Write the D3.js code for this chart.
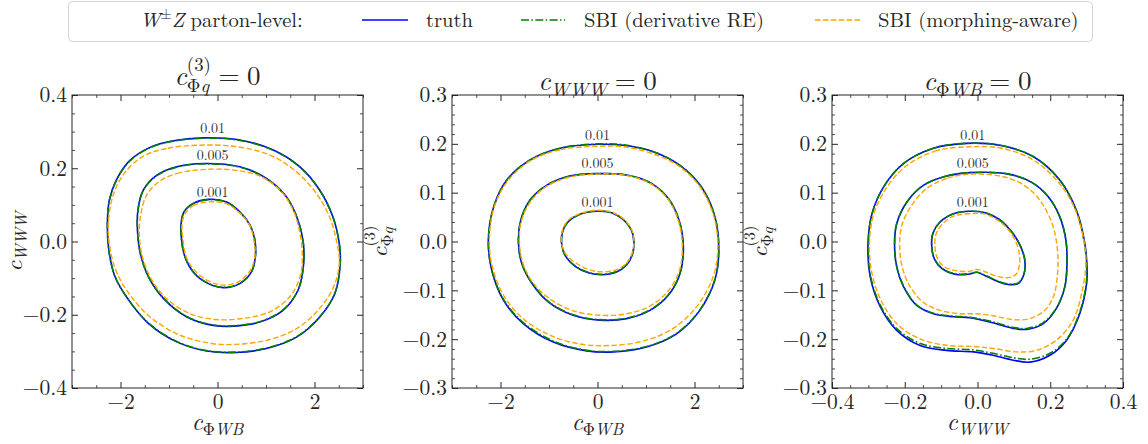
<!DOCTYPE html>
<html><head><meta charset="utf-8">
<script src="https://cdn.jsdelivr.net/npm/d3@7"></script>
<style>
body{margin:0;background:#fff}
svg{display:block;background:#fff}
</style>
</head><body>
<svg id="chart" width="1148" height="444"></svg>
<script>
// ---------------- DATA ----------------
const levelLabels = ["0.01", "0.005", "0.001"];
const seriesNames = ["truth", "SBI (derivative RE)", "SBI (morphing-aware)"];

// tick values
const xTicksWB = [-2, 0, 2];
const yTicksWWW = [-0.4, -0.2, 0.0, 0.2, 0.4];
const yTicksPhiq = [-0.3, -0.2, -0.1, 0.0, 0.1, 0.2, 0.3];
const xTicksWWW = [-0.4, -0.2, 0.0, 0.2, 0.4];

// Panel 1: c_PhiWB (x) vs c_WWW (y), c_Phiq(3)=0
const p1Truth01 = [[-0.29,0.283],[-0.91,0.275],[-1.39,0.257],[-1.80,0.222],[-2.07,0.172],[-2.23,0.113],[-2.27,0.049],[-2.24,-0.024],[-2.11,-0.097],[-1.83,-0.160],[-1.42,-0.224],[-0.84,-0.274],[-0.22,-0.299],[0.39,-0.303],[1.01,-0.292],[1.63,-0.261],[2.11,-0.206],[2.42,-0.142],[2.53,-0.060],[2.51,-0.005],[2.38,0.067],[2.11,0.140],[1.70,0.204],[1.15,0.250],[0.46,0.277]];
const p1Deriv01 = [[-0.29,0.282],[-0.91,0.274],[-1.39,0.256],[-1.80,0.221],[-2.07,0.171],[-2.23,0.112],[-2.27,0.049],[-2.24,-0.024],[-2.11,-0.097],[-1.83,-0.160],[-1.42,-0.223],[-0.84,-0.273],[-0.22,-0.298],[0.39,-0.302],[1.01,-0.291],[1.63,-0.260],[2.11,-0.205],[2.42,-0.141],[2.53,-0.060],[2.51,-0.005],[2.38,0.067],[2.11,0.139],[1.70,0.203],[1.15,0.249],[0.46,0.276]];
const p1Morph01 = [[-0.36,0.263],[-1.05,0.254],[-1.53,0.233],[-1.90,0.190],[-2.14,0.131],[-2.25,0.049],[-2.21,-0.024],[-2.07,-0.087],[-1.80,-0.147],[-1.39,-0.206],[-0.77,-0.256],[-0.09,-0.279],[0.33,-0.281],[1.01,-0.270],[1.63,-0.238],[2.07,-0.188],[2.38,-0.128],[2.51,-0.060],[2.45,0.004],[2.31,0.067],[2.04,0.131],[1.63,0.190],[1.08,0.236],[0.39,0.259]];
const p1Truth005 = [[-0.29,0.213],[-0.84,0.204],[-1.25,0.181],[-1.53,0.140],[-1.64,0.086],[-1.65,0.031],[-1.59,-0.033],[-1.42,-0.097],[-1.11,-0.156],[-0.63,-0.206],[-0.09,-0.229],[0.33,-0.231],[0.87,-0.220],[1.35,-0.188],[1.66,-0.133],[1.77,-0.069],[1.77,-0.005],[1.66,0.058],[1.42,0.122],[1.01,0.172],[0.46,0.204]];
const p1Deriv005 = [[-0.29,0.212],[-0.84,0.203],[-1.25,0.180],[-1.53,0.140],[-1.64,0.086],[-1.65,0.031],[-1.59,-0.033],[-1.42,-0.097],[-1.11,-0.155],[-0.63,-0.205],[-0.09,-0.228],[0.33,-0.230],[0.87,-0.219],[1.35,-0.187],[1.66,-0.133],[1.77,-0.069],[1.77,-0.005],[1.66,0.058],[1.42,0.121],[1.01,0.171],[0.46,0.203]];
const p1Morph005 = [[-0.22,0.197],[-0.77,0.188],[-1.18,0.166],[-1.46,0.127],[-1.59,0.067],[-1.61,0.013],[-1.54,-0.046],[-1.35,-0.106],[-1.05,-0.156],[-0.57,-0.197],[-0.02,-0.213],[0.53,-0.210],[1.08,-0.192],[1.49,-0.151],[1.70,-0.097],[1.75,-0.042],[1.70,0.022],[1.56,0.086],[1.29,0.140],[0.87,0.179],[0.33,0.195]];
const p1Truth001 = [[-0.19,0.115],[-0.50,0.104],[-0.69,0.081],[-0.75,0.049],[-0.74,0.004],[-0.67,-0.042],[-0.50,-0.083],[-0.22,-0.113],[0.12,-0.126],[0.46,-0.115],[0.70,-0.083],[0.78,-0.042],[0.77,0.004],[0.67,0.045],[0.46,0.081],[0.19,0.108]];
const p1Deriv001 = [[-0.19,0.114],[-0.50,0.103],[-0.69,0.081],[-0.75,0.049],[-0.74,0.004],[-0.67,-0.042],[-0.50,-0.083],[-0.22,-0.112],[0.12,-0.125],[0.46,-0.114],[0.70,-0.083],[0.78,-0.042],[0.77,0.004],[0.67,0.045],[0.46,0.080],[0.19,0.107]];
const p1Morph001 = [[-0.19,0.108],[-0.48,0.099],[-0.66,0.078],[-0.73,0.049],[-0.71,0.004],[-0.65,-0.040],[-0.48,-0.078],[-0.21,-0.106],[0.09,-0.119],[0.43,-0.110],[0.67,-0.080],[0.77,-0.042],[0.75,0.004],[0.66,0.045],[0.45,0.079],[0.17,0.104]];
const p1LabelPos = [[-0.10,0.296],[-0.10,0.222],[-0.10,0.122]];

// Panel 2: c_PhiWB (x) vs c_Phiq(3) (y), c_WWW=0
const p2Truth01 = [[0.02,0.199],[-0.77,0.191],[-1.39,0.167],[-1.87,0.126],[-2.14,0.071],[-2.25,0.003],[-2.18,-0.059],[-1.94,-0.120],[-1.53,-0.168],[-0.91,-0.206],[-0.22,-0.224],[0.33,-0.226],[1.01,-0.216],[1.63,-0.189],[2.11,-0.141],[2.42,-0.079],[2.50,-0.018],[2.42,0.051],[2.14,0.112],[1.70,0.156],[1.15,0.184],[0.53,0.197]];
const p2Deriv01 = [[0.02,0.200],[-0.77,0.191],[-1.39,0.167],[-1.87,0.126],[-2.14,0.071],[-2.25,0.003],[-2.18,-0.058],[-1.94,-0.118],[-1.53,-0.166],[-0.91,-0.204],[-0.22,-0.223],[0.33,-0.225],[1.01,-0.215],[1.63,-0.188],[2.11,-0.140],[2.42,-0.078],[2.50,-0.018],[2.42,0.051],[2.14,0.112],[1.70,0.156],[1.15,0.184],[0.53,0.198]];
const p2Morph01 = [[0.02,0.195],[-0.77,0.188],[-1.39,0.165],[-1.85,0.124],[-2.13,0.070],[-2.23,0.003],[-2.16,-0.055],[-1.92,-0.113],[-1.51,-0.160],[-0.91,-0.195],[-0.29,-0.211],[0.26,-0.213],[0.94,-0.204],[1.56,-0.178],[2.04,-0.134],[2.37,-0.076],[2.48,-0.018],[2.40,0.051],[2.12,0.111],[1.68,0.154],[1.13,0.180],[0.53,0.194]];
const p2Truth005 = [[0.02,0.139],[-0.57,0.134],[-1.05,0.115],[-1.39,0.085],[-1.58,0.044],[-1.63,-0.001],[-1.56,-0.045],[-1.35,-0.086],[-1.01,-0.124],[-0.50,-0.151],[0.05,-0.161],[0.60,-0.158],[1.08,-0.141],[1.46,-0.110],[1.70,-0.066],[1.77,-0.011],[1.68,0.044],[1.46,0.088],[1.11,0.119],[0.60,0.136]];
const p2Deriv005 = [[0.02,0.139],[-0.57,0.134],[-1.05,0.115],[-1.39,0.085],[-1.58,0.044],[-1.63,-0.001],[-1.56,-0.045],[-1.35,-0.085],[-1.01,-0.123],[-0.50,-0.150],[0.05,-0.160],[0.60,-0.157],[1.08,-0.140],[1.46,-0.109],[1.70,-0.066],[1.77,-0.011],[1.68,0.044],[1.46,0.088],[1.11,0.119],[0.60,0.136]];
const p2Morph005 = [[0.02,0.138],[-0.57,0.132],[-1.05,0.113],[-1.37,0.083],[-1.57,0.042],[-1.61,-0.001],[-1.54,-0.044],[-1.34,-0.083],[-0.99,-0.117],[-0.50,-0.142],[0.05,-0.151],[0.60,-0.148],[1.07,-0.133],[1.44,-0.103],[1.68,-0.062],[1.75,-0.011],[1.67,0.042],[1.45,0.087],[1.10,0.118],[0.60,0.135]];
const p2Truth001 = [[-0.02,0.062],[-0.36,0.056],[-0.61,0.040],[-0.72,0.020],[-0.74,-0.004],[-0.67,-0.028],[-0.46,-0.051],[-0.19,-0.064],[0.09,-0.068],[0.38,-0.063],[0.60,-0.048],[0.72,-0.026],[0.75,-0.003],[0.70,0.023],[0.53,0.045],[0.29,0.059]];
const p2Deriv001 = [[-0.02,0.062],[-0.36,0.056],[-0.61,0.040],[-0.72,0.020],[-0.74,-0.004],[-0.67,-0.028],[-0.46,-0.050],[-0.19,-0.063],[0.09,-0.067],[0.38,-0.062],[0.60,-0.047],[0.72,-0.026],[0.75,-0.003],[0.70,0.023],[0.53,0.045],[0.29,0.059]];
const p2Morph001 = [[-0.02,0.064],[-0.36,0.057],[-0.62,0.042],[-0.73,0.020],[-0.74,-0.004],[-0.65,-0.026],[-0.43,-0.045],[-0.19,-0.057],[0.05,-0.062],[0.36,-0.059],[0.59,-0.045],[0.71,-0.025],[0.75,-0.001],[0.71,0.023],[0.54,0.046],[0.29,0.060]];
const p2LabelPos = [[0.0,0.208],[0.0,0.150],[0.0,0.070]];

// Panel 3: c_WWW (x) vs c_Phiq(3) (y), c_PhiWB=0
const p3Truth01 = [[-0.030,0.201],[-0.121,0.191],[-0.203,0.160],[-0.258,0.112],[-0.290,0.057],[-0.301,-0.004],[-0.295,-0.072],[-0.267,-0.134],[-0.222,-0.182],[-0.158,-0.213],[-0.085,-0.223],[-0.011,-0.226],[0.043,-0.233],[0.098,-0.243],[0.144,-0.247],[0.199,-0.233],[0.245,-0.202],[0.281,-0.148],[0.300,-0.086],[0.301,-0.052],[0.295,-0.004],[0.272,0.064],[0.226,0.126],[0.153,0.174],[0.062,0.197]];
const p3Deriv01 = [[-0.030,0.201],[-0.121,0.191],[-0.203,0.160],[-0.258,0.112],[-0.290,0.057],[-0.300,-0.004],[-0.294,-0.071],[-0.266,-0.132],[-0.221,-0.179],[-0.157,-0.209],[-0.085,-0.219],[-0.011,-0.222],[0.043,-0.229],[0.098,-0.238],[0.144,-0.241],[0.199,-0.229],[0.245,-0.200],[0.280,-0.147],[0.299,-0.086],[0.300,-0.052],[0.294,-0.004],[0.271,0.064],[0.226,0.126],[0.153,0.174],[0.062,0.197]];
const p3Morph01 = [[-0.021,0.194],[-0.112,0.186],[-0.194,0.156],[-0.251,0.109],[-0.286,0.054],[-0.297,-0.004],[-0.290,-0.066],[-0.263,-0.124],[-0.217,-0.172],[-0.153,-0.201],[-0.080,-0.213],[-0.011,-0.215],[0.043,-0.219],[0.107,-0.226],[0.162,-0.223],[0.217,-0.202],[0.263,-0.161],[0.288,-0.100],[0.298,-0.045],[0.292,0.003],[0.267,0.068],[0.222,0.122],[0.153,0.167],[0.066,0.191]];
const p3Truth005 = [[-0.021,0.141],[-0.085,0.134],[-0.149,0.115],[-0.194,0.081],[-0.222,0.037],[-0.228,-0.004],[-0.222,-0.052],[-0.203,-0.093],[-0.167,-0.131],[-0.121,-0.148],[-0.066,-0.154],[-0.021,-0.156],[0.034,-0.165],[0.098,-0.178],[0.135,-0.180],[0.181,-0.168],[0.217,-0.137],[0.240,-0.093],[0.246,-0.045],[0.243,0.003],[0.226,0.051],[0.194,0.092],[0.149,0.121],[0.085,0.138]];
const p3Deriv005 = [[-0.021,0.141],[-0.085,0.134],[-0.149,0.115],[-0.194,0.081],[-0.222,0.037],[-0.228,-0.004],[-0.222,-0.052],[-0.203,-0.092],[-0.167,-0.130],[-0.121,-0.147],[-0.066,-0.153],[-0.021,-0.155],[0.034,-0.163],[0.098,-0.176],[0.135,-0.178],[0.181,-0.166],[0.217,-0.136],[0.240,-0.093],[0.246,-0.045],[0.243,0.003],[0.226,0.051],[0.194,0.092],[0.149,0.121],[0.085,0.138]];
const p3Morph005 = [[-0.021,0.138],[-0.085,0.129],[-0.139,0.109],[-0.181,0.074],[-0.208,0.033],[-0.214,-0.008],[-0.208,-0.049],[-0.187,-0.090],[-0.150,-0.124],[-0.103,-0.141],[-0.048,-0.148],[-0.002,-0.148],[0.043,-0.152],[0.098,-0.160],[0.144,-0.158],[0.185,-0.141],[0.210,-0.110],[0.220,-0.066],[0.220,-0.018],[0.208,0.030],[0.181,0.074],[0.140,0.109],[0.080,0.131]];
const p3Truth001 = [[-0.021,0.062],[-0.066,0.057],[-0.103,0.040],[-0.123,0.016],[-0.126,-0.008],[-0.119,-0.035],[-0.098,-0.055],[-0.062,-0.067],[-0.025,-0.067],[-0.002,-0.063],[0.021,-0.070],[0.053,-0.081],[0.085,-0.088],[0.112,-0.086],[0.128,-0.066],[0.130,-0.038],[0.119,-0.011],[0.094,0.020],[0.060,0.045],[0.021,0.059]];
const p3Deriv001 = [[-0.021,0.062],[-0.066,0.057],[-0.103,0.040],[-0.123,0.016],[-0.126,-0.008],[-0.119,-0.035],[-0.098,-0.055],[-0.062,-0.066],[-0.025,-0.066],[-0.002,-0.063],[0.021,-0.069],[0.053,-0.080],[0.085,-0.087],[0.112,-0.085],[0.128,-0.066],[0.130,-0.038],[0.119,-0.011],[0.094,0.020],[0.060,0.045],[0.021,0.059]];
const p3Morph001 = [[-0.016,0.057],[-0.062,0.053],[-0.095,0.037],[-0.114,0.015],[-0.117,-0.011],[-0.110,-0.035],[-0.091,-0.052],[-0.057,-0.060],[-0.022,-0.061],[-0.002,-0.057],[0.021,-0.062],[0.053,-0.071],[0.085,-0.074],[0.106,-0.067],[0.115,-0.049],[0.115,-0.025],[0.103,0.003],[0.078,0.030],[0.043,0.049],[0.014,0.057]];
const p3LabelPos = [[-0.013,0.208],[-0.013,0.150],[-0.013,0.070]];

// ---------------- LAYOUT / STYLE ----------------
const svg = d3.select("#chart");
const FONT = "Latin Modern Roman, Liberation Serif, serif";
const TXT = "#262626";
const PW = 291, PH = 293, PY = 95;
const styles = [
  {color: "#0000ff", width: 1.6, dash: null},
  {color: "#008000", width: 1.6, dash: "8,2.4,1.5,2.4"},
  {color: "#ffa500", width: 1.4, dash: "5.5,2.4"}
];
function font(sel, size) {
  return sel.style("font-family", FONT).style("font-size", size + "px").style("fill", TXT);
}

// math-like text: pieces laid out sequentially; sub/sup smaller and shifted; stack places piece at previous start
function mathText(parent, pieces, fs, anchor) {
  const g = parent.append("g");
  let x = 0, prevStart = 0, prevW = 0;
  pieces.forEach(p => {
    const size = (p.sub || p.sup) ? fs * 0.7 : fs;
    const dy = p.sub ? fs * (p.subShift || 0.22) : p.sup ? -fs * (p.supShift || 0.42) : 0;
    if (p.gapL) x += p.gapL * fs;
    const start = p.stack ? prevStart : x;
    const t = font(g.append("text").attr("x", start).attr("y", dy), size);
    p.runs.forEach(r => t.append("tspan").text(r[0]).style("font-style", r[1] ? "italic" : "normal"));
    const w = t.node().getComputedTextLength();
    if (p.stack) { x = start + Math.max(prevW, w); }
    else { x = start + w; prevStart = start; prevW = w; }
    if (p.gapR) x += p.gapR * fs;
  });
  const shift = anchor === "middle" ? -x / 2 : anchor === "end" ? -x : 0;
  g.selectAll("text").attr("x", function(){ return +d3.select(this).attr("x") + shift; });
  return g;
}

const cPhiq = [{runs:[["c",1]]},{runs:[["Φ",0],["q",1]],sub:1,subShift:0.25},{runs:[["(3)",0]],sup:1,stack:1,supShift:0.52}];
const cWWW = [{runs:[["c",1]]},{runs:[["WWW",1]],sub:1}];
const cPhiWB = [{runs:[["c",1]]},{runs:[["Φ",0],["WB",1]],sub:1}];
const eqZero = [{runs:[["=",0]],gapL:0.28,gapR:0.28},{runs:[["0",0]]}];

const panels = [
  {x0: 72, xd: [-3, 3], yd: [-0.4, 0.4], xMaj: xTicksWB, xMin: d3.range(-3, 3.001, 0.5), yMaj: yTicksWWW, yMin: d3.range(-0.4, 0.4001, 0.05),
   xFmt: d3.format("d"), yFmt: d3.format(".1f"),
   truth: [p1Truth01, p1Truth005, p1Truth001], deriv: [p1Deriv01, p1Deriv005, p1Deriv001], morph: [p1Morph01, p1Morph005, p1Morph001], lab: p1LabelPos,
   title: cPhiq.concat(eqZero), titleY: 85, xl: cPhiWB, yl: cWWW, ylX: 22},
  {x0: 452, xd: [-3, 3], yd: [-0.3, 0.3], xMaj: xTicksWB, xMin: d3.range(-3, 3.001, 0.5), yMaj: yTicksPhiq, yMin: d3.range(-0.3, 0.3001, 0.02),
   xFmt: d3.format("d"), yFmt: d3.format(".1f"),
   truth: [p2Truth01, p2Truth005, p2Truth001], deriv: [p2Deriv01, p2Deriv005, p2Deriv001], morph: [p2Morph01, p2Morph005, p2Morph001], lab: p2LabelPos,
   title: cWWW.concat(eqZero), titleY: 90, xl: cPhiWB, yl: cPhiq, ylX: 387},
  {x0: 832, xd: [-0.4, 0.4], yd: [-0.3, 0.3], xMaj: xTicksWWW, xMin: d3.range(-0.4, 0.4001, 0.05), yMaj: yTicksPhiq, yMin: d3.range(-0.3, 0.3001, 0.02),
   xFmt: d3.format(".1f"), yFmt: d3.format(".1f"),
   truth: [p3Truth01, p3Truth005, p3Truth001], deriv: [p3Deriv01, p3Deriv005, p3Deriv001], morph: [p3Morph01, p3Morph005, p3Morph001], lab: p3LabelPos,
   title: cPhiWB.concat(eqZero), titleY: 90, xl: cWWW, yl: cPhiq, ylX: 767}
];

panels.forEach(p => {
  const g = svg.append("g").attr("transform", `translate(${p.x0},${PY})`);
  const xS = d3.scaleLinear().domain(p.xd).range([0, PW]);
  const yS = d3.scaleLinear().domain(p.yd).range([PH, 0]);
  const line = d3.line().x(d => xS(d[0])).y(d => yS(d[1])).curve(d3.curveCatmullRomClosed.alpha(0.5));

  // contours: truth, derivative RE, morphing-aware
  [p.truth, p.deriv, p.morph].forEach((set, si) => {
    set.forEach(pts => {
      g.append("path").attr("d", line(pts)).attr("fill", "none")
        .attr("stroke", styles[si].color).attr("stroke-width", styles[si].width)
        .attr("stroke-dasharray", styles[si].dash).attr("stroke-linejoin", "round");
    });
  });
  // contour level labels
  p.lab.forEach((d, i) => {
    font(g.append("text").attr("x", xS(d[0])).attr("y", yS(d[1])).attr("text-anchor", "middle"), 14)
      .style("fill", "#333").text(levelLabels[i]);
  });

  // axes (ticks inward on all sides)
  const mk = (axis, vals, size, fmt, pad) => axis.tickValues(vals).tickSize(-size).tickSizeOuter(0).tickPadding(pad).tickFormat(fmt);
  const none = () => "";
  const notMaj = (arr) => v => !arr.some(m => Math.abs(m - v) < 1e-9);
  const xMinV = p.xMin.filter(notMaj(p.xMaj)), yMinV = p.yMin.filter(notMaj(p.yMaj));
  const axes = [
    [d3.axisBottom(xS), `translate(0,${PH})`, p.xMaj, xMinV, p.xFmt, 6],
    [d3.axisTop(xS), null, p.xMaj, xMinV, none, 5],
    [d3.axisLeft(yS), null, p.yMaj, yMinV, p.yFmt, 5],
    [d3.axisRight(yS), `translate(${PW},0)`, p.yMaj, yMinV, none, 5]
  ];
  axes.forEach(([ax, tr, maj, min, fmt, pad]) => {
    const a1 = g.append("g").attr("transform", tr).call(mk(ax, maj, 6, fmt, pad));
    a1.select(".domain").remove();
    a1.attr("color", TXT);
    font(a1.selectAll("text"), 21.5);
    a1.selectAll("line").attr("stroke-width", 1);
    const a2 = g.append("g").attr("transform", tr).call(mk(ax.tickValues(min), min, 3, none, 0));
    a2.select(".domain").remove();
    a2.attr("color", TXT);
    a2.selectAll("line").attr("stroke-width", 0.8);
  });
  g.append("rect").attr("x", 0).attr("y", 0).attr("width", PW).attr("height", PH)
    .attr("fill", "none").attr("stroke", TXT).attr("stroke-width", 1);

  // title, x label, y label
  mathText(svg.append("g").attr("transform", `translate(${p.x0 + PW / 2},${p.titleY})`), p.title, 27, "middle");
  mathText(svg.append("g").attr("transform", `translate(${p.x0 + PW / 2},430)`), p.xl, 24, "middle");
  mathText(svg.append("g").attr("transform", `translate(${p.ylX},${PY + PH / 2}) rotate(-90)`), p.yl, 23.5, "middle");
});

// ---------------- LEGEND ----------------
const leg = svg.append("g");
leg.append("rect").attr("x", 68.5).attr("y", 1.5).attr("width", 1024).attr("height", 40).attr("rx", 4)
  .attr("fill", "#fff").attr("stroke", "#d4d4d4").attr("stroke-width", 1);
mathText(leg.append("g").attr("transform", "translate(140,27)"),
  [{runs:[["W",1]]},{runs:[["±",0]],sup:1,supShift:0.38},{runs:[["Z",1]]},{runs:[["parton-level:",0]],gapL:0.3}], 20.6, "start");
const legItems = [
  {x1: 362, x2: 408, tx: 426},
  {x1: 521, x2: 565, tx: 584},
  {x1: 815, x2: 861, tx: 878}
];
legItems.forEach((it, i) => {
  leg.append("line").attr("x1", it.x1).attr("x2", it.x2).attr("y1", 20).attr("y2", 20)
    .attr("stroke", styles[i].color).attr("stroke-width", styles[i].width).attr("stroke-dasharray", styles[i].dash);
  font(leg.append("text").attr("x", it.tx).attr("y", 27), 20.6).text(seriesNames[i]);
});
</script>
</body></html>
